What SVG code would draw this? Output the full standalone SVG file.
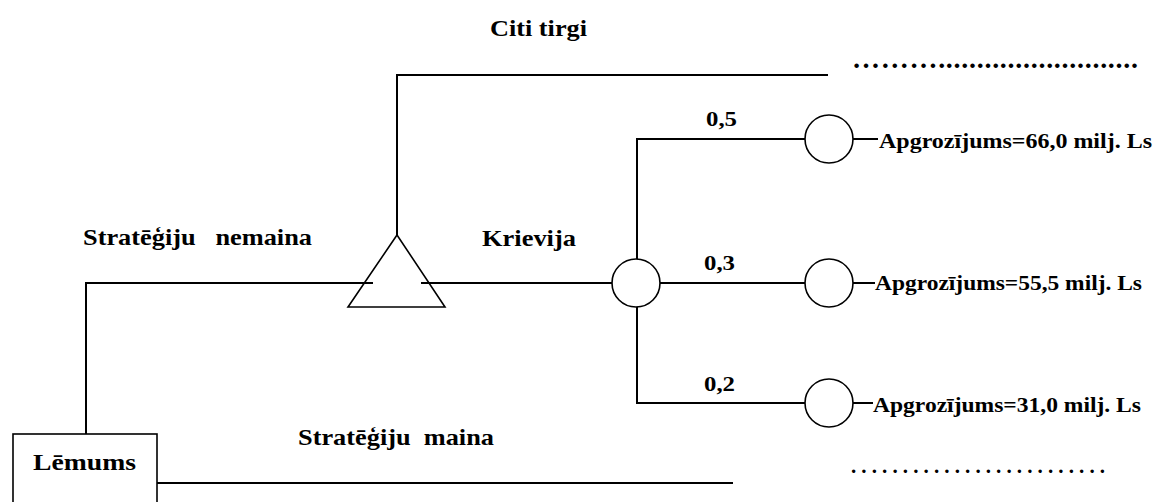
<svg xmlns="http://www.w3.org/2000/svg" width="1154" height="502" viewBox="0 0 1154 502">
  <style>
    .ln { stroke: #000; stroke-width: 2; fill: none; }
    .nd { stroke: #000; stroke-width: 1.6; fill: #fff; }
    .t { font-family: "Liberation Serif", "Times New Roman", serif; font-weight: bold; fill: #000; }
    .big { font-size: 23px; }
    .mid { font-size: 21px; }
  </style>
  <rect width="1154" height="502" fill="#fff"/>

  <!-- connectors -->
  <g id="connectors">
    <polyline class="ln" points="397,235 397,75 828,75"/>
    <polyline class="ln" points="86,434 86,283 373,283"/>
    <line class="ln" x1="421" y1="283" x2="612" y2="283"/>
    <polyline class="ln" points="805,139 637,139 637,403 805,403"/>
    <line class="ln" x1="660" y1="283" x2="805" y2="283"/>
    <line class="ln" x1="853" y1="139" x2="878" y2="139"/>
    <line class="ln" x1="853" y1="283" x2="875" y2="283"/>
    <line class="ln" x1="853" y1="403" x2="873" y2="403"/>
    <line class="ln" x1="157" y1="483" x2="733" y2="483"/>
  </g>

  <!-- decision node -->
  <g id="lemums">
    <rect class="nd" x="13" y="434" width="144" height="80"/>
    <text class="t big" x="33" y="470" textLength="103" lengthAdjust="spacingAndGlyphs">Lēmums</text>
  </g>

  <!-- market node -->
  <g id="tirgus">
    <polygon class="nd" points="397,235 445,307 348,307" style="fill:none"/>
  </g>

  <!-- chance node -->
  <g id="krievija-iespeja">
    <circle class="nd" cx="636" cy="283" r="24"/>
  </g>

  <!-- outcome nodes -->
  <g id="iznakums-1">
    <circle class="nd" cx="829" cy="139" r="24"/>
    <text class="t mid" x="879" y="148" textLength="273" lengthAdjust="spacingAndGlyphs">Apgrozījums=66,0 milj. Ls</text>
  </g>
  <g id="iznakums-2">
    <circle class="nd" cx="829" cy="283" r="24"/>
    <text class="t mid" x="875" y="290" textLength="267" lengthAdjust="spacingAndGlyphs">Apgrozījums=55,5 milj. Ls</text>
  </g>
  <g id="iznakums-3">
    <circle class="nd" cx="829" cy="403" r="24"/>
    <text class="t mid" x="873" y="412" textLength="268" lengthAdjust="spacingAndGlyphs">Apgrozījums=31,0 milj. Ls</text>
  </g>

  <!-- branch labels -->
  <g id="labels">
    <text class="t big" x="490" y="36" textLength="97" lengthAdjust="spacingAndGlyphs">Citi tirgi</text>
    <text class="t big" x="83" y="245" textLength="229" lengthAdjust="spacingAndGlyphs" xml:space="preserve">Stratēģiju   nemaina</text>
    <text class="t big" x="482" y="246" textLength="94" lengthAdjust="spacingAndGlyphs">Krievija</text>
    <text class="t big" x="298" y="445" textLength="196" lengthAdjust="spacingAndGlyphs" xml:space="preserve">Stratēģiju  maina</text>
    <text class="t mid" x="706" y="126" textLength="31" lengthAdjust="spacingAndGlyphs">0,5</text>
    <text class="t mid" x="704" y="270" textLength="31" lengthAdjust="spacingAndGlyphs">0,3</text>
    <text class="t mid" x="704" y="391" textLength="31" lengthAdjust="spacingAndGlyphs">0,2</text>
    <text class="t" style="font-size:28px" x="852" y="68" textLength="286" lengthAdjust="spacing">………..........................</text>
    <text class="t mid" x="851" y="473" textLength="254" lengthAdjust="spacing" xml:space="preserve">. . . . . . . . . . . . . . . . . . . . . . . . .</text>
  </g>
</svg>
